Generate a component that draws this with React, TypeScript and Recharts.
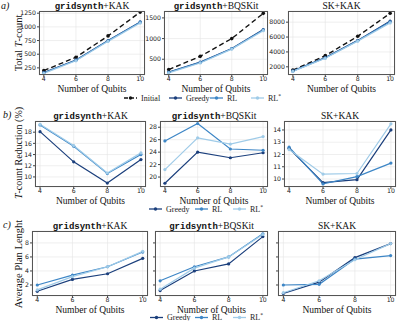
import React from 'react';
import { LineChart, Line, XAxis, YAxis, CartesianGrid } from 'recharts';

const qubits = [4, 6, 8, 10];
const xTicks = [4, 6, 8, 10];

// a) Total T-count
const aGkInitial = [200, 445, 835, 1270];
const aGkGreedy = [165, 395, 750, 1090];
const aGkRL = [160, 390, 745, 1085];
const aGkRLs = [150, 380, 735, 1070];

const aGbInitial = [250, 570, 1000, 1610];
const aGbGreedy = [190, 430, 760, 1220];
const aGbRL = [185, 425, 755, 1210];
const aGbRLs = [170, 410, 745, 1190];

const aSkInitial = [1560, 3500, 6100, 9200];
const aSkGreedy = [1450, 3250, 5550, 8150];
const aSkRL = [1420, 3200, 5500, 8050];
const aSkRLs = [1380, 3150, 5450, 7900];

// b) T-count Reduction (%)
const bGkGreedy = [18.1, 12.7, 8.9, 13.1];
const bGkRL = [19.3, 15.5, 10.6, 14.0];
const bGkRLs = [19.4, 15.6, 10.7, 14.3];

const bGbGreedy = [19.0, 24.0, 23.1, 23.9];
const bGbRL = [25.8, 28.6, 24.5, 24.3];
const bGbRLs = [21.2, 26.3, 25.3, 26.5];

const bSkGreedy = [12.5, 9.7, 9.95, 14.0];
const bSkRL = [12.6, 9.6, 10.2, 11.3];
const bSkRLs = [12.4, 10.4, 10.45, 14.5];

// c) Average Plan Length
const cGkGreedy = [1.1, 2.8, 3.6, 5.8];
const cGkRL = [2.0, 3.4, 4.6, 6.7];
const cGkRLs = [1.3, 3.2, 4.6, 6.8];

const cGbGreedy = [1.2, 4.0, 5.0, 8.9];
const cGbRL = [2.6, 4.6, 6.0, 9.3];
const cGbRLs = [1.4, 4.4, 6.0, 9.2];

const cSkGreedy = [0.8, 2.4, 5.9, 7.9];
const cSkRL = [2.0, 2.1, 5.7, 6.2];
const cSkRLs = [0.9, 2.6, 5.6, 7.9];

const C_INIT = '#111111';
const C_GREEDY = '#1b3f7c';
const C_RL = '#3d86c6';
const C_RLS = '#9fcbe8';

const SERIF = '"Liberation Serif", "DejaVu Serif", serif';
const MONO = '"Liberation Mono", "DejaVu Sans Mono", monospace';
const SANS = '"DejaVu Sans", "Liberation Sans", sans-serif';

type Series = { key: string; color: string; dashed?: boolean };

const buildRows = (cols: Record<string, number[]>) =>
  qubits.map((q, i) => {
    const row: Record<string, number> = { q };
    Object.keys(cols).forEach((k) => (row[k] = cols[k][i]));
    return row;
  });

const withInit: Series[] = [
  { key: 'Initial', color: C_INIT, dashed: true },
  { key: 'Greedy', color: C_GREEDY },
  { key: 'RL', color: C_RL },
  { key: 'RLs', color: C_RLS },
];
const noInit: Series[] = withInit.slice(1);

type PanelProps = {
  L: number; T: number; R: number; B: number;
  rows: Record<string, number>[];
  series: Series[];
  domain: [number, number];
  ticks: number[];
  showY?: boolean;
};

function Panel({ L, T, R, B, rows, series, domain, ticks, showY = true }: PanelProps) {
  const yw = 30;
  const xh = 11;
  const mt = 5;
  const width = R - L + yw + 2;
  const height = B - T + xh + mt;
  const tickStyle = { fontSize: 6.2, fill: '#222', fontFamily: SANS };
  return (
    <>
      <div style={{ position: 'absolute', left: L - yw, top: T - mt }}>
        <LineChart width={width} height={height} data={rows} margin={{ top: mt, right: 2, left: 0, bottom: 0 }}>
          <CartesianGrid stroke="#e4e4e4" strokeWidth={0.6} />
          <XAxis
            dataKey="q"
            type="number"
            domain={[3.7, 10.3]}
            ticks={xTicks}
            height={xh}
            tickSize={2}
            tickMargin={0}
            axisLine={false}
            stroke="#444"
            tick={tickStyle}
            interval={0}
          />
          <YAxis
            type="number"
            domain={domain}
            ticks={ticks}
            width={yw}
            tickSize={2}
            tickMargin={1}
            axisLine={false}
            stroke="#444"
            tick={tickStyle}
            interval={0}
            allowDataOverflow
            tickFormatter={(v: number) => (showY ? String(v) : '')}
          />
          {series.map((s) => (
            <Line
              key={s.key}
              dataKey={s.key}
              stroke={s.color}
              strokeWidth={s.dashed ? 1.4 : 1.2}
              strokeDasharray={s.dashed ? '5 3' : undefined}
              dot={{ r: s.dashed ? 1.8 : 1.6, fill: s.color, stroke: s.color, strokeWidth: 0 }}
              isAnimationActive={false}
            />
          ))}
        </LineChart>
      </div>
      <div
        style={{
          position: 'absolute', left: L, top: T, width: R - L, height: B - T,
          border: '0.8px solid #555', boxSizing: 'border-box', pointerEvents: 'none',
        }}
      />
    </>
  );
}

const rowA = { T: 11, B: 75 };
const rowB = { T: 121, B: 187 };
const rowC = { T: 231, B: 296 };

const colsA = [[39, 145], [164, 268], [288, 395]];
const colsB = [[35, 146], [160, 268], [284, 396]];
const colsC = [[32, 148], [155, 268], [278, 396]];

function Title({ cx, y, mono, rest }: { cx: number; y: number; mono?: string; rest: string }) {
  return (
    <text x={cx} y={y} textAnchor="middle" fontSize={9.5} fill="#111">
      {mono ? <tspan fontFamily={MONO} fontWeight="bold" fontSize={9}>{mono}</tspan> : null}
      <tspan fontFamily={SERIF}>{rest}</tspan>
    </text>
  );
}

function LegendItem({ x, y, color, label, dashed, textX }: { x: number; y: number; color: string; label: React.ReactNode; dashed?: boolean; textX: number }) {
  return (
    <g>
      <line x1={x} y1={y} x2={x + 13} y2={y} stroke={color} strokeWidth={1.3} strokeDasharray={dashed ? '4 2' : undefined} />
      <circle cx={x + 6.5} cy={y} r={1.7} fill={color} />
      <text x={textX} y={y + 2.8} fontSize={8} fontFamily={SERIF} fill="#222">{label}</text>
    </g>
  );
}

const rlStar = (
  <>
    RL<tspan fontSize={5.5} dy={-3}>*</tspan>
  </>
);

export default function App() {
  const aRows = [
    buildRows({ Initial: aGkInitial, Greedy: aGkGreedy, RL: aGkRL, RLs: aGkRLs }),
    buildRows({ Initial: aGbInitial, Greedy: aGbGreedy, RL: aGbRL, RLs: aGbRLs }),
    buildRows({ Initial: aSkInitial, Greedy: aSkGreedy, RL: aSkRL, RLs: aSkRLs }),
  ];
  const bRows = [
    buildRows({ Greedy: bGkGreedy, RL: bGkRL, RLs: bGkRLs }),
    buildRows({ Greedy: bGbGreedy, RL: bGbRL, RLs: bGbRLs }),
    buildRows({ Greedy: bSkGreedy, RL: bSkRL, RLs: bSkRLs }),
  ];
  const cRows = [
    buildRows({ Greedy: cGkGreedy, RL: cGkRL, RLs: cGkRLs }),
    buildRows({ Greedy: cGbGreedy, RL: cGbRL, RLs: cGbRLs }),
    buildRows({ Greedy: cSkGreedy, RL: cSkRL, RLs: cSkRLs }),
  ];
  const aDomains: [number, number][] = [[120, 1290], [119, 1667], [900, 9500]];
  const aTicks = [[250, 500, 750, 1000, 1250], [500, 1000, 1500], [2000, 4000, 6000, 8000]];
  const bDomains: [number, number][] = [[8.2, 20.0], [18.4, 29.0], [9.35, 14.73]];
  const bTicks = [[10, 12, 14, 16, 18], [20, 22, 24, 26, 28], [10, 11, 12, 13, 14]];
  const cDomain: [number, number] = [0.43, 9.7];
  const cTicks = [2, 4, 6, 8];

  const titles = [
    { mono: 'gridsynth', rest: '+KAK' },
    { mono: 'gridsynth', rest: '+BQSKit' },
    { mono: undefined, rest: 'SK+KAK' },
  ];

  return (
    <div style={{ position: 'absolute', left: 0, top: 0, width: 397, height: 321, background: '#fff', overflow: 'hidden' }}>
      {colsA.map(([L, R], i) => (
        <Panel key={'a' + i} L={L} R={R} T={rowA.T} B={rowA.B} rows={aRows[i]} series={withInit} domain={aDomains[i]} ticks={aTicks[i]} />
      ))}
      {colsB.map(([L, R], i) => (
        <Panel key={'b' + i} L={L} R={R} T={rowB.T} B={rowB.B} rows={bRows[i]} series={noInit} domain={bDomains[i]} ticks={bTicks[i]} />
      ))}
      {colsC.map(([L, R], i) => (
        <Panel key={'c' + i} L={L} R={R} T={rowC.T} B={rowC.B} rows={cRows[i]} series={noInit} domain={cDomain} ticks={cTicks} showY={i === 0} />
      ))}
      <svg width={397} height={321} style={{ position: 'absolute', left: 0, top: 0, pointerEvents: 'none' }}>
        {/* panel letters */}
        <text x={1} y={9} fontSize={10} fontStyle="italic" fontFamily={SERIF} fill="#111">a)</text>
        <text x={3} y={118} fontSize={10} fontStyle="italic" fontFamily={SERIF} fill="#111">b)</text>
        <text x={3} y={228} fontSize={10} fontStyle="italic" fontFamily={SERIF} fill="#111">c)</text>

        {/* titles */}
        {[colsA, colsB, colsC].map((cols, r) =>
          cols.map(([L, R], i) => (
            <Title key={`t${r}${i}`} cx={(L + R) / 2} y={[rowA.T, rowB.T, rowC.T][r] - 2} mono={titles[i].mono} rest={titles[i].rest} />
          ))
        )}

        {/* x labels */}
        {[colsA, colsB, colsC].map((cols, r) =>
          cols.map(([L, R], i) => (
            <text key={`x${r}${i}`} x={(L + R) / 2} y={[rowA.B, rowB.B, rowC.B][r] + 16.5} textAnchor="middle" fontSize={9.5} fontFamily={SERIF} fill="#111">
              Number of Qubits
            </text>
          ))
        )}

        {/* y labels */}
        <text transform="translate(22,43) rotate(-90)" textAnchor="middle" fontSize={10.5} fontFamily={SERIF} fill="#111">
          Total <tspan fontStyle="italic">T</tspan>-count
        </text>
        <text transform="translate(22,153) rotate(-90)" textAnchor="middle" fontSize={10} fontFamily={SERIF} fill="#111">
          <tspan fontStyle="italic">T</tspan>-count Reduction (%)
        </text>
        <text transform="translate(22,264) rotate(-90)" textAnchor="middle" fontSize={10.5} fontFamily={SERIF} fill="#111">
          Average Plan Lenght
        </text>

        {/* legends */}
        <LegendItem x={124} y={98} color={C_INIT} label="Initial" dashed textX={141} />
        <LegendItem x={169} y={98} color={C_GREEDY} label="Greedy" textX={186} />
        <LegendItem x={210} y={98} color={C_RL} label="RL" textX={227} />
        <LegendItem x={251} y={98} color={C_RLS} label={rlStar} textX={268} />

        <LegendItem x={149} y={209} color={C_GREEDY} label="Greedy" textX={166} />
        <LegendItem x={195} y={209} color={C_RL} label="RL" textX={212} />
        <LegendItem x={233} y={209} color={C_RLS} label={rlStar} textX={250} />

        <LegendItem x={150} y={317.5} color={C_GREEDY} label="Greedy" textX={167} />
        <LegendItem x={195} y={317.5} color={C_RL} label="RL" textX={212} />
        <LegendItem x={233} y={317.5} color={C_RLS} label={rlStar} textX={250} />
      </svg>
    </div>
  );
}
